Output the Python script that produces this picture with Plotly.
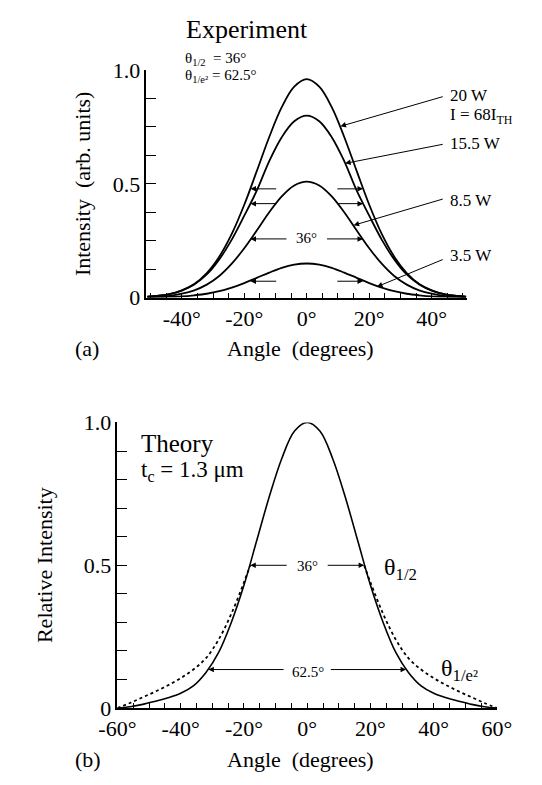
import plotly.graph_objects as go

# ---------------- data ----------------
ANGLE_EXP = [-51, -48, -44, -40, -36, -32, -28, -24, -20, -16, -12, -8, -4, 0,
             4, 8, 12, 16, 20, 24, 28, 32, 36, 40, 44, 48, 51]
P_20W = [0.004, 0.007, 0.015, 0.032, 0.060, 0.108, 0.180, 0.280, 0.408, 0.556, 0.706, 0.837, 0.927, 0.960,
         0.927, 0.837, 0.706, 0.556, 0.408, 0.280, 0.180, 0.108, 0.060, 0.032, 0.015, 0.007, 0.004]
P_15W = [0.004, 0.007, 0.015, 0.031, 0.058, 0.102, 0.168, 0.255, 0.360, 0.470, 0.600, 0.705, 0.775, 0.800,
         0.775, 0.705, 0.600, 0.470, 0.360, 0.255, 0.168, 0.102, 0.058, 0.031, 0.015, 0.007, 0.004]
P_8W = [0.002, 0.004, 0.008, 0.017, 0.032, 0.057, 0.095, 0.149, 0.217, 0.295, 0.375, 0.445, 0.493, 0.510,
        0.493, 0.445, 0.375, 0.295, 0.217, 0.149, 0.095, 0.057, 0.032, 0.017, 0.008, 0.004, 0.002]
P_3W = [0.000, 0.001, 0.003, 0.005, 0.010, 0.017, 0.028, 0.044, 0.064, 0.087, 0.110, 0.131, 0.145, 0.150,
        0.145, 0.131, 0.110, 0.087, 0.064, 0.044, 0.028, 0.017, 0.010, 0.005, 0.003, 0.001, 0.000]

ANGLE_TH = [-60, -56, -52, -48, -44, -40, -36, -32, -28, -24, -20, -16, -12, -8, -4, 0,
            4, 8, 12, 16, 20, 24, 28, 32, 36, 40, 44, 48, 52, 56, 60]
TH_SOLID = [0.0, 0.005, 0.013, 0.024, 0.036, 0.052, 0.078, 0.125, 0.195, 0.300, 0.430, 0.585, 0.740, 0.875, 0.970, 1.0,
            0.970, 0.875, 0.740, 0.585, 0.430, 0.300, 0.195, 0.125, 0.078, 0.052, 0.036, 0.024, 0.013, 0.005, 0.0]
ANGLE_DOT_L = [-60, -56, -52, -48, -44, -40, -36, -32, -28, -24, -20, -18]
TH_DOT_L = [0.0, 0.018, 0.038, 0.058, 0.080, 0.105, 0.135, 0.175, 0.240, 0.330, 0.440, 0.500]
ANGLE_DOT_R = [18, 20, 24, 28, 32, 36, 40, 44, 48, 52, 56, 60]
TH_DOT_R = [0.500, 0.440, 0.330, 0.240, 0.175, 0.135, 0.105, 0.080, 0.058, 0.038, 0.018, 0.0]

TOP_XTICKS = [-40, -20, 0, 20, 40]
BOT_XTICKS = [-60, -40, -20, 0, 20, 40, 60]
Y_TICKS = [0, 0.5, 1.0]
Y_TICKTEXT = ["0", "0.5", "1.0"]

# ---------------- figure ----------------
W, H = 542, 785
SERIF = "Liberation Serif, Times New Roman, serif"


def px(x):
    return x / W


def py(y):
    return 1 - y / H


fig = go.Figure()
line_top = dict(color="black", width=1.8)
for ys in (P_20W, P_15W, P_8W, P_3W):
    fig.add_trace(go.Scatter(x=ANGLE_EXP, y=ys, mode="lines", line=dict(shape="spline", **line_top),
                             xaxis="x", yaxis="y", showlegend=False, hoverinfo="skip"))

fig.add_trace(go.Scatter(x=ANGLE_TH, y=TH_SOLID, mode="lines",
                         line=dict(color="black", width=1.6, shape="spline"),
                         xaxis="x2", yaxis="y2", showlegend=False, hoverinfo="skip"))
for xs, ys in ((ANGLE_DOT_L, TH_DOT_L), (ANGLE_DOT_R, TH_DOT_R)):
    fig.add_trace(go.Scatter(x=xs, y=ys, mode="lines",
                             line=dict(color="black", width=1.8, dash="dot", shape="spline"),
                             xaxis="x2", yaxis="y2", showlegend=False, hoverinfo="skip"))

tickfont = dict(family=SERIF, size=22, color="black")
common = dict(showline=True, linecolor="black", linewidth=1.5, showgrid=False, zeroline=False,
              ticks="inside", tickcolor="black", tickwidth=1, tickfont=tickfont, tickmode="array")

fig.update_layout(
    width=W, height=H, margin=dict(l=0, r=0, t=0, b=0),
    paper_bgcolor="white", plot_bgcolor="white",
    xaxis=dict(domain=[px(136), px(478)], range=[-51.3, 51.3], anchor="y",
               tickvals=TOP_XTICKS, ticktext=[f"{v}°" for v in TOP_XTICKS], ticklen=5,
               minor=dict(tickmode="linear", tick0=0, dtick=5, ticks="inside", ticklen=5,
                          tickcolor="black", tickwidth=1), **common),
    yaxis=dict(domain=[py(295), py(60)], range=[0, 1.0], anchor="x",
               tickvals=Y_TICKS, ticktext=Y_TICKTEXT, ticklen=10,
               minor=dict(tickmode="linear", tick0=0, dtick=0.125, ticks="inside", ticklen=10,
                          tickcolor="black", tickwidth=1), **common),
    xaxis2=dict(domain=[px(105), px(510)], range=[-60, 60], anchor="y2",
                tickvals=BOT_XTICKS, ticktext=[f"{v}°" for v in BOT_XTICKS], ticklen=5,
                minor=dict(tickmode="linear", tick0=0, dtick=5, ticks="inside", ticklen=5,
                           tickcolor="black", tickwidth=1), **common),
    yaxis2=dict(domain=[py(719), py(424)], range=[0, 1.0], anchor="x2",
                tickvals=Y_TICKS, ticktext=Y_TICKTEXT, ticklen=10,
                minor=dict(tickmode="linear", tick0=0, dtick=0.1, ticks="inside", ticklen=10,
                           tickcolor="black", tickwidth=1), **common),
)

ann = []


def text(x, y, s, size, xanchor="left", angle=0):
    ann.append(dict(x=px(x), y=py(y), xref="paper", yref="paper", text=s, showarrow=False,
                    xanchor=xanchor, yanchor="middle", textangle=angle,
                    font=dict(family=SERIF, size=size, color="black")))


def arrow(xh, yh, xt, yt, panel):
    xr, yr = ("x", "y") if panel == 1 else ("x2", "y2")
    ann.append(dict(x=xh, y=yh, ax=xt, ay=yt, xref=xr, yref=yr, axref=xr, ayref=yr,
                    text="", showarrow=True, arrowhead=2, arrowsize=1.1, arrowwidth=1,
                    arrowcolor="black", standoff=0, startstandoff=0))


# top panel texts
text(243, 18, "Experiment", 26, "center")
text(175, 49, "θ<sub>1/2</sub>  = 36°", 15)
text(175, 66, "θ<sub>1/e²</sub> = 62.5°", 15)
text(458, 86, "20 W", 17)
text(458, 107, "I = 68I<sub>TH</sub>", 17)
text(458, 136, "15.5 W", 17)
text(458, 195, "8.5 W", 17)
text(458, 252, "3.5 W", 17)
text(307, 233, "36°", 15, "center")
text(73, 348, "(a)", 22, "center")
text(300, 348, "Angle  (degrees)", 22, "center")
text(68, 177, "Intensity  (arb. units)", 22, "center", -90)

# leader arrows (head on curve, tail at label)
arrow(10.8, 0.753, 44.0, 0.885, 1)
arrow(12.3, 0.590, 44.0, 0.675, 1)
arrow(15.0, 0.318, 44.0, 0.435, 1)
arrow(22.5, 0.048, 44.0, 0.170, 1)
# half-width arrows
for yv in (0.478, 0.413, 0.072):
    arrow(-18, yv, -9.3, yv, 1)
    arrow(18, yv, 9.3, yv, 1)
arrow(-18, 0.258, -6, 0.258, 1)
arrow(18, 0.258, 6, 0.258, 1)

# bottom panel texts
text(128, 446, "Theory", 25)
text(128, 474, "t<sub>c</sub> = 1.3 μm", 23)
text(308, 572, "36°", 15, "center")
text(308, 682, "62.5°", 15, "center")
text(387, 575, "θ<sub>1/2</sub>", 24)
text(448, 680, "θ<sub>1/e²</sub>", 24)
text(74, 772, "(b)", 22, "center")
text(300, 772, "Angle  (degrees)", 22, "center")
text(28, 571, "Relative Intensity", 22, "center", -90)

arrow(-18, 0.5, -6, 0.5, 2)
arrow(18, 0.5, 6, 0.5, 2)
arrow(-31.25, 0.135, -7, 0.135, 2)
arrow(31.25, 0.135, 7, 0.135, 2)

fig.update_layout(annotations=ann)
fig.write_html("out.html", config={"displayModeBar": False},
               post_script="document.body.style.margin='0';document.body.style.overflow='hidden';")
